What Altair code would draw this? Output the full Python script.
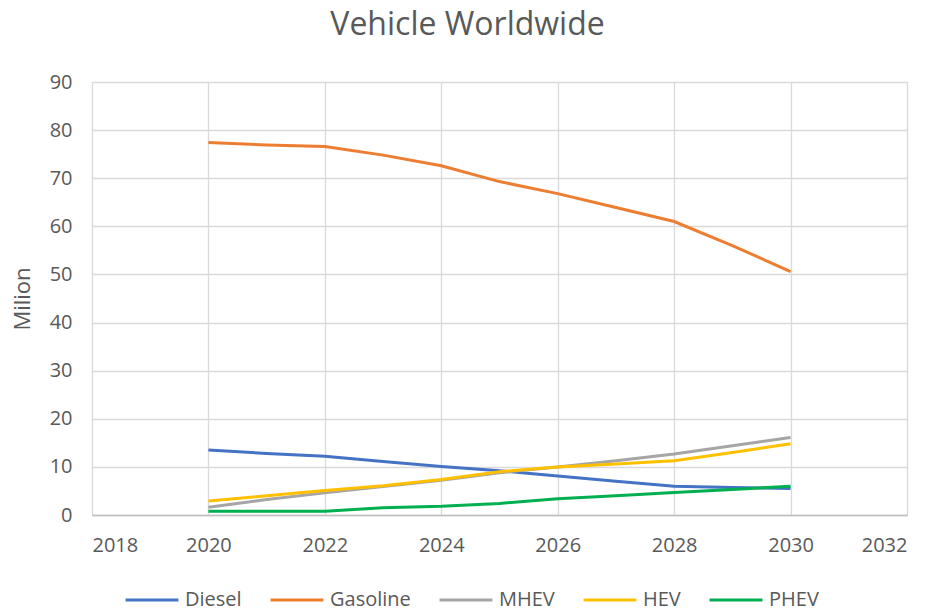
import altair as alt
import pandas as pd

# Worldwide vehicle sales by powertrain, million units
years = [2020, 2021, 2022, 2023, 2024, 2025, 2026, 2027, 2028, 2029, 2030]
diesel = [13.5, 12.8, 12.2, 11.1, 10.1, 9.2, 8.1, 7.0, 6.0, 5.7, 5.5]
gasoline = [77.4, 76.9, 76.6, 74.8, 72.6, 69.3, 66.8, 63.9, 61.0, 56.0, 50.6]
mhev = [1.6, 3.2, 4.6, 5.9, 7.2, 8.8, 10.0, 11.3, 12.7, 14.4, 16.1]
hev = [2.9, 4.0, 5.1, 6.1, 7.4, 9.0, 10.0, 10.6, 11.3, 13.0, 14.8]
phev = [0.8, 0.8, 0.8, 1.5, 1.8, 2.4, 3.4, 4.0, 4.7, 5.3, 6.0]

series_names = ["Diesel", "Gasoline", "MHEV", "HEV", "PHEV"]
series_colors = ["#4472C4", "#ED7D31", "#A5A5A5", "#FFC000", "#00B050"]
series_values = [diesel, gasoline, mhev, hev, phev]

x_ticks = [2018, 2020, 2022, 2024, 2026, 2028, 2030, 2032]
y_ticks = [0, 10, 20, 30, 40, 50, 60, 70, 80, 90]

rows = []
for name, vals in zip(series_names, series_values):
    for yr, v in zip(years, vals):
        rows.append({"Year": yr, "Value": v, "Series": name})
df = pd.DataFrame(rows)

FONT = "Open Sans"
TXT = "#595959"
GRID = "#D9D9D9"

color = alt.Color(
    "Series:N",
    scale=alt.Scale(domain=series_names, range=series_colors),
    legend=alt.Legend(
        title=None,
        orient="none",
        direction="horizontal",
        legendX=32,
        legendY=490,
        symbolType="stroke",
        symbolSize=2800,
        symbolStrokeWidth=3,
        labelFontSize=20,
        labelFont=FONT,
        labelColor=TXT,
        labelOffset=5,
        columnPadding=22,
    ),
)

base = alt.Chart(df).encode(
    x=alt.X(
        "Year:Q",
        scale=alt.Scale(domain=[2018, 2032], nice=False, zero=False),
        axis=alt.Axis(
            title=None,
            values=x_ticks,
            format="d",
            labelFontSize=20,
            labelFont=FONT,
            labelColor=TXT,
            labelPadding=20,
            ticks=False,
            grid=True,
            gridColor=GRID,
            gridWidth=1.3,
            domainColor="#BFBFBF",
            domainWidth=1.5,
        ),
    ),
    y=alt.Y(
        "Value:Q",
        scale=alt.Scale(domain=[0, 90], nice=False),
        axis=alt.Axis(
            title="Milion",
            values=y_ticks,
            labelFontSize=20,
            labelFont=FONT,
            labelColor=TXT,
            labelPadding=20,
            ticks=False,
            domain=False,
            grid=True,
            gridColor=GRID,
            gridWidth=1.3,
            titleFont=FONT,
            titleFontSize=22,
            titleFontWeight="normal",
            titleColor=TXT,
            titlePadding=15,
        ),
    ),
    color=color,
)

# one layer per series so later series are drawn on top of earlier ones
layers = [
    base.transform_filter(alt.datum.Series == name).mark_line(strokeWidth=3)
    for name in series_names
]

chart = (
    alt.layer(*layers)
    .properties(
        width=815,
        height=433,
        padding={"left": 92, "top": 82, "right": 28, "bottom": 96},
        autosize=alt.AutoSizeParams(type="none"),
        title=alt.Title(
            "Vehicle Worldwide",
            font=FONT,
            fontSize=32,
            fontWeight="normal",
            color=TXT,
            anchor="middle",
            offset=30,
            dx=-32,
        ),
    )
    .configure_view(stroke=None)
    .configure(background="white")
)

chart.save("out.html", embed_options={"renderer": "svg", "actions": False})
